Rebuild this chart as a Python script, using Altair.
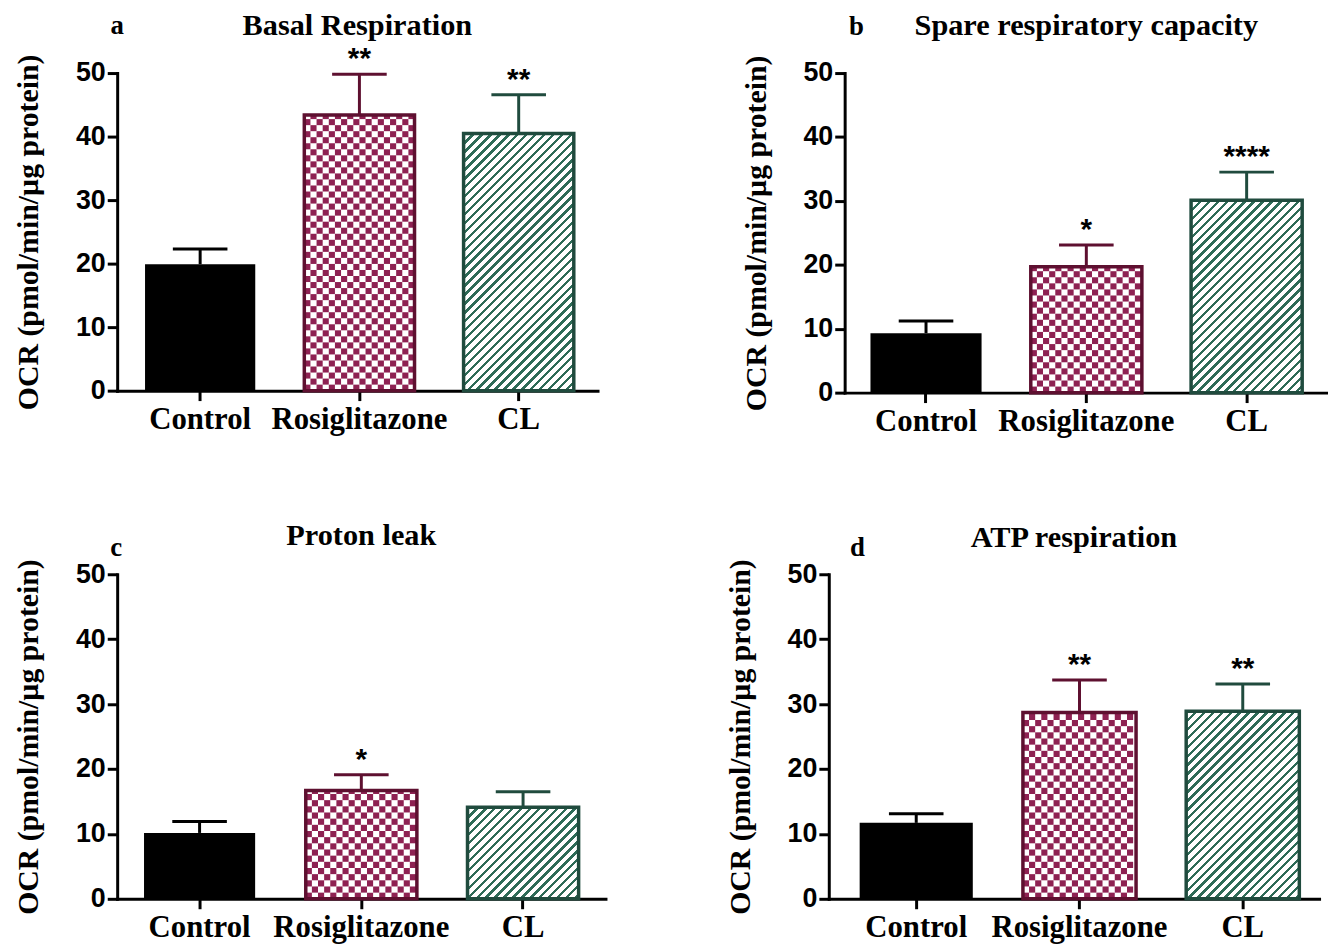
import math
import altair as alt
import pandas as pd

# ---------------- data ----------------
groups = ["Control", "Rosiglitazone", "CL"]
panel_letters = ["a", "b", "c", "d"]
panel_titles = ["Basal Respiration", "Spare respiratory capacity", "Proton leak", "ATP respiration"]
y_title = "OCR (pmol/min/µg protein)"
y_ticks = [0, 10, 20, 30, 40, 50]

basal_mean = [19.9, 43.4, 40.5]
basal_err = [22.3, 49.8, 46.6]
basal_sig = ["", "**", "**"]

spare_mean = [9.3, 19.7, 30.1]
spare_err = [11.2, 23.1, 34.5]
spare_sig = ["", "*", "****"]

leak_mean = [10.15, 16.7, 14.1]
leak_err = [11.9, 19.1, 16.5]
leak_sig = ["", "*", ""]

atp_mean = [11.7, 28.7, 28.9]
atp_err = [13.1, 33.7, 33.1]
atp_sig = ["", "**", "**"]

# ---------------- style ----------------
SERIF = "Liberation Serif"
SANS = "Liberation Sans"
BLACK = "#000000"
MAROON_FILL = "#8E2152"
MAROON = "#5E1030"
GREEN_FILL = "#2E6B57"
GREEN = "#204B3E"
CELL = 0.95        # checker cell height (data units)
NCOLS = 18         # checker columns per bar
STRIPE = 9.0       # stripe period (px, horizontal)
STRIPE_FRAC = 0.38

layouts = [
    dict(w=484, h=320, pi=0.308, po=0.162, al=0.54, ty=-47, lx=0, ly=-47),
    dict(w=487, h=322, pi=0.307, po=0.161, al=0.5, ty=-47, lx=12, ly=-46),
    dict(w=492, h=327, pi=0.313, po=0.166, al=0.5, ty=-38, lx=-1, ly=-26),
    dict(w=494, h=327, pi=0.307, po=0.155, al=0.61, ty=-36, lx=29, ly=-26),
]


def stripe_gradient(W, H):
    tot = W + H
    s = tot / (W * W + H * H)
    stops = []
    k = 0
    while k * STRIPE < tot:
        a = min(k * STRIPE / tot, 1)
        b = min((k + STRIPE_FRAC) * STRIPE / tot, 1)
        c = min((k + 1) * STRIPE / tot, 1)
        stops += [
            {"offset": a, "color": GREEN_FILL},
            {"offset": b, "color": GREEN_FILL},
            {"offset": b, "color": "#ffffff"},
            {"offset": c, "color": "#ffffff"},
        ]
        k += 1
    return {"gradient": "linear", "x1": 0, "y1": 0, "x2": s * W, "y2": s * H, "stops": stops}


def panel(mean, err, sig, title, letter, L):
    df = pd.DataFrame({"group": groups, "value": mean, "err": err, "sig": sig})
    xscale = alt.Scale(domain=groups, paddingInner=L["pi"], paddingOuter=L["po"], align=L["al"])
    yscale = alt.Scale(domain=[0, 50], nice=False, zero=True)
    xaxis = alt.Axis(title=None, labelAngle=0, labelFont=SERIF, labelFontWeight="bold",
                     labelFontSize=31, labelPadding=4, tickSize=10)
    yaxis = alt.Axis(title=y_title, values=y_ticks, titleFont=SERIF, titleFontWeight="bold",
                     titleFontSize=30, titlePadding=32, labelFont=SANS, labelFontWeight="bold",
                     labelFontSize=27, labelPadding=2, tickSize=10, grid=False)

    def X():
        return alt.X("group:N", scale=xscale, sort=groups, axis=xaxis)

    def Y(field):
        return alt.Y(field, scale=yscale, axis=yaxis)

    base = alt.Chart(df)
    control = base.transform_filter(alt.datum.group == "Control").mark_bar(
        color=BLACK).encode(x=X(), y=Y("value:Q"))
    rosi_bg = base.transform_filter(alt.datum.group == "Rosiglitazone").mark_bar(
        fill="#ffffff").encode(x=X(), y=Y("value:Q"))
    cells = (
        base.transform_filter(alt.datum.group == "Rosiglitazone")
        .transform_calculate(r=f"sequence(0, ceil(datum.value / {CELL}))",
                             c=f"sequence(0, {NCOLS})")
        .transform_flatten(["r"])
        .transform_flatten(["c"])
        .transform_filter("(datum.r + datum.c) % 2 == 0")
        .transform_calculate(y0=f"datum.r * {CELL}",
                             y1=f"min((datum.r + 1) * {CELL}, datum.value)")
        .mark_bar(color=MAROON_FILL)
        .encode(x=X(), xOffset=alt.XOffset("c:O", scale=alt.Scale(paddingInner=0, paddingOuter=0)),
                y=Y("y0:Q"), y2="y1:Q")
    )
    rosi_edge = base.transform_filter(alt.datum.group == "Rosiglitazone").mark_bar(
        fillOpacity=0, stroke=MAROON, strokeWidth=3.5).encode(x=X(), y=Y("value:Q"))

    step = L["w"] / (3 - L["pi"] + 2 * L["po"])
    W = step * (1 - L["pi"])
    H = mean[2] / 50 * L["h"]
    cl = base.transform_filter(alt.datum.group == "CL").mark_bar(
        fill=stripe_gradient(W, H), stroke=GREEN, strokeWidth=3.5).encode(x=X(), y=Y("value:Q"))

    col = alt.Color("group:N", scale=alt.Scale(domain=groups, range=[BLACK, MAROON, GREEN]), legend=None)
    rule = base.mark_rule(strokeWidth=3).encode(x=X(), y=Y("value:Q"), y2="err:Q", color=col)
    caps = base.mark_tick(thickness=3, size=55, orient="horizontal", opacity=1).encode(
        x=X(), y=Y("err:Q"), color=col)
    stars = base.transform_filter("datum.sig != ''").mark_text(
        font=SANS, fontWeight="bold", fontSize=30, baseline="alphabetic", dy=-6, color=BLACK
    ).encode(x=X(), y=Y("err:Q"), text="sig:N")

    tdf = pd.DataFrame({"t": [title], "l": [letter]})
    title_t = alt.Chart(tdf).mark_text(font=SERIF, fontWeight="bold", fontSize=30.5,
                                       baseline="middle", align="center", color=BLACK).encode(
        text="t:N", x=alt.value(L["w"] / 2), y=alt.value(L["ty"]))
    letter_t = alt.Chart(tdf).mark_text(font=SERIF, fontWeight="bold", fontSize=27,
                                        baseline="middle", align="center", color=BLACK).encode(
        text="l:N", x=alt.value(L["lx"]), y=alt.value(L["ly"]))

    return alt.layer(control, rosi_bg, cells, rosi_edge, cl, rule, caps, stars, title_t, letter_t
                     ).properties(width=L["w"], height=L["h"])


pa = panel(basal_mean, basal_err, basal_sig, panel_titles[0], panel_letters[0], layouts[0])
pb = panel(spare_mean, spare_err, spare_sig, panel_titles[1], panel_letters[1], layouts[1])
pc = panel(leak_mean, leak_err, leak_sig, panel_titles[2], panel_letters[2], layouts[2])
pd_ = panel(atp_mean, atp_err, atp_sig, panel_titles[3], panel_letters[3], layouts[3])

row1 = alt.hconcat(pa, pb, spacing=144)
row2 = alt.hconcat(pc, pd_, spacing=120)

chart = (
    alt.vconcat(row1, row2, spacing=86)
    .properties(padding={"left": 5, "top": 0, "right": 0, "bottom": 0}, background="#ffffff")
    .configure_view(stroke=None)
    .configure_axis(domainColor=BLACK, domainWidth=3, tickColor=BLACK, tickWidth=3,
                    labelColor=BLACK, titleColor=BLACK, grid=False, domainCap="square")
)

chart.save("out.html", embed_options={"renderer": "svg", "actions": False})
